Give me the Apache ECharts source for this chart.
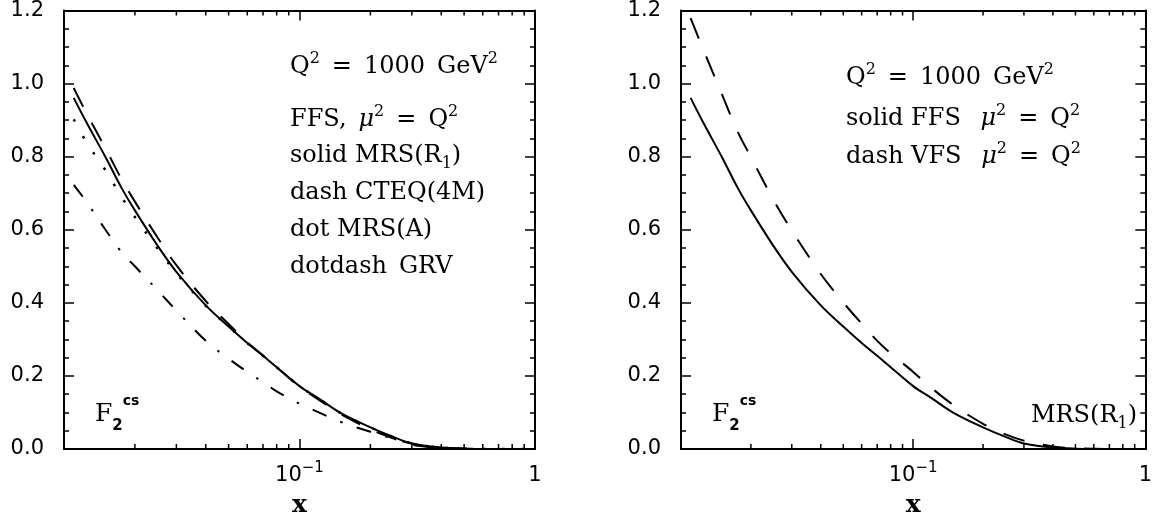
<!DOCTYPE html>
<html>
<head>
<meta charset="utf-8">
<script src="https://cdn.jsdelivr.net/npm/echarts@6/dist/echarts.min.js"></script>
<style>
html,body{margin:0;padding:0;background:#fff;}
#chart{width:1155px;height:523px;}
</style>
</head>
<body>
<div id="chart"></div>
<script>
// ---- data ----
const xs      = [0.011, 0.0125, 0.015, 0.0175, 0.02, 0.025, 0.03, 0.04, 0.05, 0.06, 0.07, 0.08, 0.1, 0.12, 0.15, 0.2, 0.25, 0.3, 0.4, 0.5, 0.7, 0.95];
const mrsR1   = [0.961, 0.892, 0.799, 0.716, 0.653, 0.556, 0.485, 0.393, 0.335, 0.290, 0.255, 0.224, 0.172, 0.139, 0.098, 0.059, 0.033, 0.015, 0.004, 0.001, 0, 0];
const cteq4m  = [0.988, 0.917, 0.823, 0.740, 0.677, 0.578, 0.503, 0.405, 0.342, 0.292, 0.256, 0.224, 0.171, 0.136, 0.095, 0.054, 0.029, 0.012, 0.003, 0.001, 0, 0];
const mrsA    = [0.902, 0.838, 0.763, 0.691, 0.635, 0.548, 0.481, 0.392, 0.335, 0.290, 0.255, 0.224, 0.172, 0.139, 0.098, 0.059, 0.033, 0.015, 0.004, 0.001, 0, 0];
const grv     = [0.723, 0.675, 0.600, 0.540, 0.500, 0.434, 0.379, 0.296, 0.247, 0.211, 0.183, 0.158, 0.124, 0.101, 0.074, 0.047, 0.028, 0.015, 0.004, 0.001, 0, 0];
const vfsR1   = [1.179, 1.092, 0.971, 0.870, 0.799, 0.682, 0.598, 0.479, 0.401, 0.343, 0.296, 0.262, 0.211, 0.167, 0.119, 0.069, 0.040, 0.023, 0.007, 0.002, 0, 0];
const minorXTicks = [0.02, 0.03, 0.04, 0.05, 0.06, 0.07, 0.08, 0.09, 0.2, 0.3, 0.4, 0.5, 0.6, 0.7, 0.8, 0.9];
const yMin = 0, yMax = 1.2, yStep = 0.2;
const xMin = 0.01, xMax = 1;

// ---- helpers ----
const pair = (ys) => xs.map((x, i) => [x, ys[i]]);
const SERIF = 'DejaVu Serif';
const SANS = 'DejaVu Sans';
const SP = '\u2002';

function xAxisDef(gridIndex, pos, showLabels) {
  return {
    type: 'log', logBase: 10, min: xMin, max: xMax, gridIndex: gridIndex, position: pos,
    name: showLabels ? 'x' : '', nameLocation: 'middle', nameGap: 44,
    nameTextStyle: {fontFamily: SERIF, fontWeight: 'bold', fontSize: 25, color: '#000'},
    axisLine: {show: true, onZero: false, lineStyle: {color: '#000', width: 2}},
    axisTick: {show: true, inside: true, length: 10, lineStyle: {color: '#000', width: 1.5}},
    minorTick: {show: false},
    splitLine: {show: false},
    axisLabel: {
      show: showLabels, margin: 12, color: '#000', fontFamily: SANS, fontSize: 21,
      formatter: function (v) {
        if (Math.abs(v - 0.1) < 1e-9) return '{b|10}{s|\u22121}';
        if (Math.abs(v - 1) < 1e-9) return '{b|1}';
        return '';
      },
      rich: {
        b: {fontFamily: SANS, fontSize: 21, lineHeight: 30, color: '#000'},
        s: {fontFamily: SANS, fontSize: 15, lineHeight: 16, verticalAlign: 'top', color: '#000'}
      }
    }
  };
}
function yAxisDef(gridIndex, pos, showLabels) {
  return {
    type: 'value', min: yMin, max: yMax, interval: yStep, gridIndex: gridIndex, position: pos,
    axisLine: {show: true, onZero: false, lineStyle: {color: '#000', width: 2}},
    axisTick: {show: true, inside: true, length: 10, lineStyle: {color: '#000', width: 1.5}},
    minorTick: {show: true, splitNumber: 4, length: 5, lineStyle: {color: '#000', width: 1.5}},
    splitLine: {show: false},
    axisLabel: {show: showLabels, margin: 20, color: '#000', fontFamily: SANS, fontSize: 21,
      formatter: v => v.toFixed(1)}
  };
}
function lineSeries(ys, xi, yi, type, width) {
  return {
    type: 'line', data: pair(ys), xAxisIndex: xi, yAxisIndex: yi,
    showSymbol: false, symbol: 'none', smooth: 0.35, clip: true,
    lineStyle: {color: '#000', width: width || 2, type: type, cap: 'butt'},
    z: 3
  };
}
function minorTickSeries(xi, yi) {
  return {
    type: 'custom', xAxisIndex: xi, yAxisIndex: yi, clip: false, silent: true, z: 5,
    data: minorXTicks.map(v => [v, yMin]),
    renderItem: function (params, api) {
      const x = api.value(0);
      const b = api.coord([x, yMin]);
      const t = api.coord([x, yMax]);
      const st = {stroke: '#000', lineWidth: 1.5};
      return {type: 'group', children: [
        {type: 'line', shape: {x1: b[0], y1: b[1], x2: b[0], y2: b[1] - 5}, style: st},
        {type: 'line', shape: {x1: t[0], y1: t[1], x2: t[0], y2: t[1] + 5}, style: st}
      ]};
    }
  };
}

const richText = {
  s:  {fontFamily: SERIF, fontSize: 16, lineHeight: 14, verticalAlign: 'top', fill: '#000'},
  d:  {fontFamily: SERIF, fontSize: 16, lineHeight: 20, verticalAlign: 'bottom', fill: '#000'},
  m:  {fontFamily: SERIF, fontSize: 24, lineHeight: 32, fontStyle: 'italic', fill: '#000'},
  n:  {fontFamily: SERIF, fontSize: 24, lineHeight: 32, fill: '#000'}
};
function txt(x, y, text, align) {
  return {
    type: 'text', x: x, y: y, z: 10,
    style: {text: text, fill: '#000', font: '24px "DejaVu Serif"', align: align || 'left', verticalAlign: 'middle', rich: richText}
  };
}
const fRich = {
  f: {fontFamily: SERIF, fontSize: 25, lineHeight: 40, fill: '#000'},
  c: {fontFamily: SANS, fontWeight: 'bold', fontSize: 14, lineHeight: 8, verticalAlign: 'top', fill: '#000'},
  t: {fontFamily: SANS, fontWeight: 'bold', fontSize: 15, lineHeight: 20, verticalAlign: 'bottom', fill: '#000'}
};
function ftxt(x, y) {
  return {type: 'text', x: x, y: y, z: 10,
    style: {text: '{f|F}{t|2}{c|cs}', rich: fRich, verticalAlign: 'middle', align: 'left', fill: '#000'}};
}

const L = {left: 64, top: 9, width: 471, height: 440};
const R = {left: 681, top: 9, width: 471, height: 440};

const option = {
  animation: false,
  backgroundColor: '#fff',
  grid: [
    {left: L.left, top: L.top, width: L.width, height: L.height},
    {left: R.left, top: R.top, width: R.width, height: R.height}
  ],
  xAxis: [xAxisDef(0, 'bottom', true), xAxisDef(0, 'top', false), xAxisDef(1, 'bottom', true), xAxisDef(1, 'top', false)],
  yAxis: [yAxisDef(0, 'left', true), yAxisDef(0, 'right', false), yAxisDef(1, 'left', true), yAxisDef(1, 'right', false)],
  series: [
    lineSeries(mrsR1, 0, 0, 'solid', 2),
    lineSeries(cteq4m, 0, 0, [21, 18], 2),
    lineSeries(mrsA, 0, 0, [2.5, 16.5], 2.5),
    lineSeries(grv, 0, 0, [15, 15, 2.5, 15], 2),
    lineSeries(mrsR1, 2, 2, 'solid', 2),
    lineSeries(vfsR1, 2, 2, [22, 19], 2),
    minorTickSeries(0, 0),
    minorTickSeries(2, 2)
  ],
  graphic: [
    txt(290, 67, '{n|Q}{s|2}{n|' + SP + '=' + SP + '1000' + SP + 'GeV}{s|2}'),
    txt(290, 120, '{n|FFS,' + SP + '}{m|\u03bc}{s|2}{n|' + SP + '=' + SP + 'Q}{s|2}'),
    txt(290, 156, '{n|solid MRS(R}{d|1}{n|)}'),
    txt(290, 193, '{n|dash CTEQ(4M)}'),
    txt(290, 230, '{n|dot MRS(A)}'),
    txt(290, 267, '{n|dotdash' + SP + 'GRV}'),
    ftxt(95, 414),
    txt(846, 78, '{n|Q}{s|2}{n|' + SP + '=' + SP + '1000' + SP + 'GeV}{s|2}'),
    txt(846, 119, '{n|solid FFS ' + SP + '}{m|\u03bc}{s|2}{n|' + SP + '=' + SP + 'Q}{s|2}'),
    txt(846, 157, '{n|dash VFS ' + SP + '}{m|\u03bc}{s|2}{n|' + SP + '=' + SP + 'Q}{s|2}'),
    ftxt(712, 414),
    txt(1137, 416, '{n|MRS(R}{d|1}{n|)}', 'right')
  ]
};
const chart = echarts.init(document.getElementById('chart'), null, {renderer: 'canvas'});
chart.setOption(option);
</script>
</body>
</html>
